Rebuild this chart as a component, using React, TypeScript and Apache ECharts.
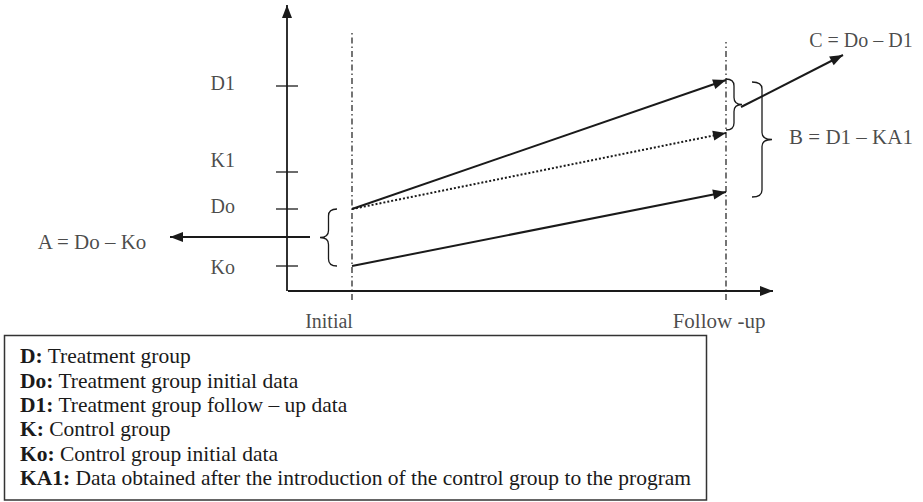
import React, { useEffect, useRef } from "react";
import * as echarts from "echarts";

// ---- data (chart units: x = time position, y = outcome level) ----
const X_CATEGORIES = ["Initial", "Follow -up"];
const X_POSITIONS = [65, 439];
const GUIDE_TOPS = [259, 249];
const GUIDE_BOTTOM = -9;

const Y_TICK_NAMES = ["Ko", "Do", "K1", "D1"];
const Y_TICK_VALUES = [25, 82, 119, 205];

const TREATMENT = [82, 211]; // Do -> D1
const EXPECTED = [82, 158]; // Do -> KA1 (dotted)
const CONTROL = [25, 99]; // Ko -> follow-up

const AXIS_X_END = 486;
const AXIS_Y_END = 286;

const A_ARROW = [[23, 54], [-117, 54]];
const C_ARROW = [[454, 184], [556, 236]];

// brace: [x base, y top, y bottom, x tip]
const BRACES = [
  [50, 82, 25, 33],
  [439, 212, 161, 455],
  [465, 209, 94, 485],
];

const FORMULAS = ["A = Do – Ko", "C = Do – D1", "B = D1 – KA1"];
const FORMULA_POS = [[-195, 49], [574, 251], [564, 154]];

const KEY_TERMS = ["D:", "Do:", "D1:", "K:", "Ko:", "KA1:"];
const KEY_DESCRIPTIONS = [
  "Treatment group",
  "Treatment group initial data",
  "Treatment group follow – up data",
  "Control group",
  "Control group initial data",
  "Data obtained after the introduction of the control group to the program",
];

const FONT = "'Liberation Serif', 'Times New Roman', serif";
const INK = "#1a1a1a";

export default function App() {
  const ref = useRef<HTMLDivElement>(null);

  useEffect(() => {
    if (!ref.current) return;
    const chart = echarts.init(ref.current, undefined, { renderer: "svg" });

    const labelNudge: Record<string, number> = { K1: -12, Ko: 1 };
    const xLabelNudge = [-23, -7];
    const xLabelSize = [20, 21];
    const formulaSize = [21, 20, 21];

    const arrowLine = (
      a: number[],
      b: number[],
      width: number,
      type: any = "solid"
    ) => [
      { coord: a, lineStyle: { width, type, color: INK } },
      { coord: b },
    ];

    const option: any = {
      animation: false,
      grid: { left: 0, right: 0, top: 0, bottom: 0 },
      xAxis: { type: "value", min: -287, max: 636, show: false },
      yAxis: { type: "value", min: -211, max: 291, show: false },
      series: [
        // guide lines (dash-dot)
        ...X_POSITIONS.map((x, i) => ({
          type: "line",
          silent: true,
          showSymbol: false,
          clip: false,
          data: [
            [x, GUIDE_BOTTOM],
            [x, GUIDE_TOPS[i]],
          ],
          lineStyle: { color: INK, width: 1.2, type: [6, 3, 1.5, 3] },
        })),
        // y ticks + labels, with arrows as markLines
        {
          type: "scatter",
          silent: true,
          symbol: "rect",
          symbolSize: [22, 1.6],
          itemStyle: { color: INK },
          data: Y_TICK_NAMES.map((n, i) => ({
            name: n,
            value: [0, Y_TICK_VALUES[i]],
            label: { offset: [0, labelNudge[n] ?? -3] },
          })),
          label: {
            show: true,
            position: "left",
            distance: 41,
            formatter: "{b}",
            fontFamily: FONT,
            fontSize: 20,
            color: INK,
          },
          markLine: {
            silent: true,
            animation: false,
            symbol: ["none", "triangle"],
            symbolSize: [10, 13],
            symbolOffset: [
              [0, 0],
              [0, "50%"],
            ],
            label: { show: false },
            emphasis: { disabled: true },
            data: [
              arrowLine([0, 0], [0, AXIS_Y_END], 1.8),
              arrowLine([1, 0], [AXIS_X_END, 0], 1.8),
              arrowLine([X_POSITIONS[0], TREATMENT[0]], [X_POSITIONS[1], TREATMENT[1]], 2),
              arrowLine([X_POSITIONS[0], EXPECTED[0]], [X_POSITIONS[1], EXPECTED[1]], 2, "dotted"),
              arrowLine([X_POSITIONS[0], CONTROL[0]], [X_POSITIONS[1], CONTROL[1]], 2),
              arrowLine(A_ARROW[0], A_ARROW[1], 2),
              arrowLine(C_ARROW[0], C_ARROW[1], 2),
            ],
          },
        },
        // x category labels
        {
          type: "scatter",
          silent: true,
          symbol: "circle",
          symbolSize: 1,
          itemStyle: { color: "rgba(0,0,0,0)" },
          data: X_CATEGORIES.map((n, i) => ({
            name: n,
            value: [X_POSITIONS[i], -30],
            label: { offset: [xLabelNudge[i], 0], fontSize: xLabelSize[i] },
          })),
          label: {
            show: true,
            position: "inside",
            formatter: "{b}",
            fontFamily: FONT,
            fontSize: 20,
            color: INK,
          },
        },
        // formula annotations
        {
          type: "scatter",
          silent: true,
          symbol: "circle",
          symbolSize: 1,
          itemStyle: { color: "rgba(0,0,0,0)" },
          data: FORMULAS.map((n, i) => ({
            name: n,
            value: FORMULA_POS[i],
            label: { fontSize: formulaSize[i] },
          })),
          label: {
            show: true,
            position: "inside",
            formatter: "{b}",
            fontFamily: FONT,
            fontSize: 20,
            color: INK,
          },
        },
        // braces
        {
          type: "custom",
          silent: true,
          data: BRACES,
          renderItem: (_p: any, api: any) => {
            const x0 = api.value(0);
            const yTop = api.value(1);
            const yBot = api.value(2);
            const xTip = api.value(3);
            const pTop = api.coord([x0, yTop]);
            const pBot = api.coord([x0, yBot]);
            const pTip = api.coord([xTip, (yTop + yBot) / 2]);
            const xb = pTop[0];
            const xt = pTip[0];
            const xm = (xb + xt) / 2;
            const y1 = pTop[1];
            const y2 = pBot[1];
            const ym = (y1 + y2) / 2;
            const r = Math.min(7, Math.abs(y2 - y1) / 4);
            const d =
              `M${xb},${y1} Q${xm},${y1} ${xm},${y1 + r} L${xm},${ym - r} ` +
              `Q${xm},${ym} ${xt},${ym} Q${xm},${ym} ${xm},${ym + r} ` +
              `L${xm},${y2 - r} Q${xm},${y2} ${xb},${y2}`;
            return {
              type: "path",
              shape: { pathData: d },
              style: { fill: "none", stroke: INK, lineWidth: 1.3 },
            };
          },
        },
      ],
      graphic: [
        {
          type: "rect",
          silent: true,
          shape: { x: 4.5, y: 335.5, width: 702, height: 164.5 },
          style: { fill: "#fff", stroke: "#333", lineWidth: 1.5 },
        },
        {
          type: "text",
          silent: true,
          x: 20,
          y: 344,
          style: {
            text: KEY_TERMS.map((t, i) => `{b|${t}}{n| ${KEY_DESCRIPTIONS[i]}}`).join("\n"),
            fontFamily: FONT,
            fontSize: 21.5,
            lineHeight: 24.4,
            fill: INK,
            verticalAlign: "top",
            rich: {
              b: { fontFamily: FONT, fontSize: 21.5, fontWeight: "bold", lineHeight: 24.4, fill: INK },
              n: { fontFamily: FONT, fontSize: 21.5, lineHeight: 24.4, fill: INK },
            },
          },
        },
      ],
    };

    chart.setOption(option);
    return () => chart.dispose();
  }, []);

  return (
    <div
      ref={ref}
      style={{ position: "fixed", left: 0, top: 0, width: 923, height: 502, background: "#fff" }}
    />
  );
}
